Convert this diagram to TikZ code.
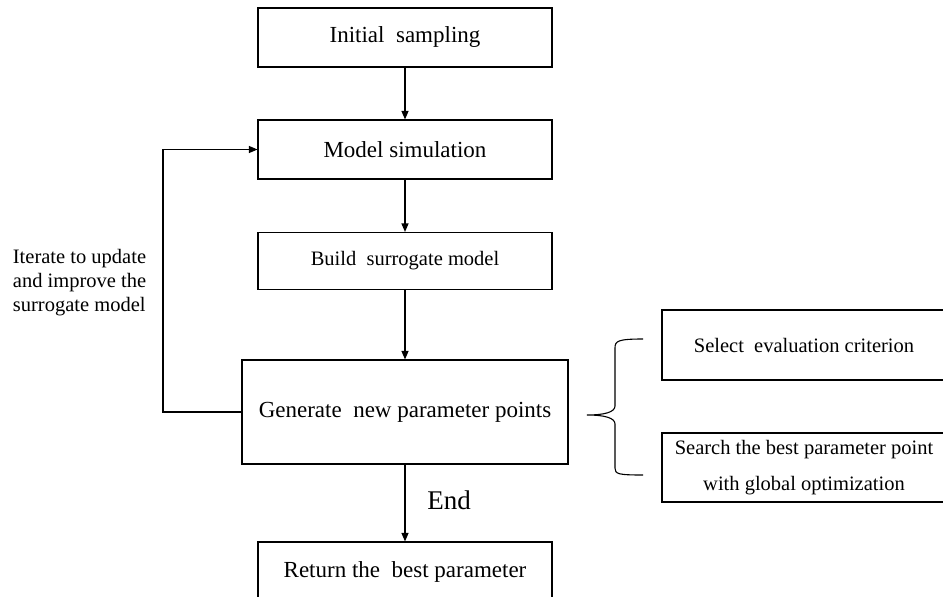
\documentclass[tikz,border=0pt]{standalone}
\usepackage{fontspec}
\setmainfont{Liberation Serif}
\usetikzlibrary{arrows.meta}
\begin{document}
\begin{tikzpicture}[x=1pt,y=-1pt,
    box/.style={draw,line width=1.1pt,inner sep=0pt,minimum width=294pt,minimum height=59pt,font=\fontsize{23}{27}\selectfont},
    sidebox/.style={draw,line width=1.1pt,inner sep=0pt,minimum width=284pt,minimum height=70pt,align=center,font=\fontsize{20.5}{36}\selectfont}]
  \useasboundingbox (0,0) rectangle (943,597);
  \clip (0,0) rectangle (943,597);
  \draw
    (405,37.5) node[box] (init){Initial~~sampling}
    (405,149.5) node[box] (sim){Model simulation}
    (405,261) node[box,minimum height=57pt,font=\fontsize{20.5}{24}\selectfont] (build){Build~~surrogate model}
    (405,412) node[box,minimum width=326pt,minimum height=104pt] (gen){Generate~~new parameter points}
    (405,572) node[box,minimum height=60pt] (ret){Return the~~best parameter}
    (804,345) node[sidebox] (sel){Select~~evaluation criterion}
    (804,467.5) node[sidebox,minimum height=69pt] (search){Search the best parameter point\\with global optimization}
    (449,500) node[font=\fontsize{27}{30}\selectfont] (endlbl){End}
    (12.7,249) node[anchor=north west,inner sep=0pt,align=left,font=\fontsize{20.5}{24}\selectfont] (note){Iterate to update\\and improve the\\surrogate model};
  \coordinate (bend) at (163,412);
  \begin{scope}[line width=1.1pt,-{Triangle[length=8.5pt,width=7pt]}]
    \draw (init) to (sim);
    \draw (sim) to (build);
    \draw (build) to (gen);
    \draw (gen) to (ret);
    \draw (gen.west) -- (bend) |- (sim.west);
  \end{scope}
  % brace
  \draw[line width=1.1pt] (643,339) .. controls (618,339) and (615,341) .. (615,348) -- (615,406)
    .. controls (615,412) and (605,415) .. (587,415)
    .. controls (605,415) and (615,418) .. (615,424) -- (615,468)
    .. controls (615,474) and (618,475) .. (643,475);
\end{tikzpicture}
\end{document}
